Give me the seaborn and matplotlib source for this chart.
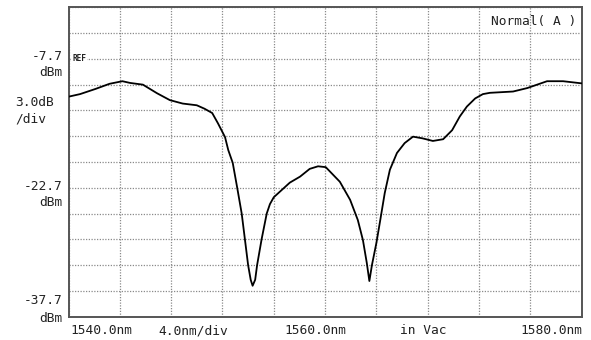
import matplotlib
matplotlib.use("Agg")
import matplotlib.pyplot as plt
import numpy as np
import pandas as pd
import seaborn as sns

# Optical spectrum trace (wavelength in nm, level in dBm)
wavelength_nm = [
    1540.0, 1540.9, 1542.1, 1543.2, 1544.2, 1544.8, 1545.8, 1546.9, 1547.9, 1548.9,
    1550.0, 1550.6, 1551.2, 1551.65, 1552.2, 1552.45, 1552.8, 1553.15, 1553.5, 1553.75,
    1554.0, 1554.2, 1554.35, 1554.55, 1554.7, 1555.05, 1555.45, 1555.7, 1556.0, 1557.25,
    1558.05, 1558.8, 1559.45, 1560.05, 1561.15, 1561.95, 1562.55, 1562.95, 1563.25, 1563.45,
    1563.65, 1564.0, 1564.3, 1564.65, 1565.05, 1565.6, 1566.2, 1566.85, 1567.6, 1568.4,
    1569.2, 1569.9, 1570.5, 1571.05, 1571.7, 1572.3, 1572.85, 1574.65, 1575.75, 1577.3,
    1578.55, 1580.0,
]
level_dbm = [
    -12.1, -11.8, -11.2, -10.6, -10.3, -10.5, -10.7, -11.7, -12.5, -12.9,
    -13.1, -13.5, -14.0, -15.2, -16.8, -18.3, -19.8, -22.7, -25.7, -28.7,
    -31.7, -33.4, -34.1, -33.4, -31.7, -28.7, -25.7, -24.6, -23.8, -22.1,
    -21.4, -20.5, -20.2, -20.3, -22.0, -24.1, -26.45, -28.8, -31.45, -33.55,
    -31.7, -29.1, -26.45, -23.3, -20.6, -18.65, -17.5, -16.75, -16.95, -17.25,
    -17.05, -16.0, -14.4, -13.25, -12.3, -11.8, -11.65, -11.5, -11.1, -10.3,
    -10.3, -10.55,
]

# Display settings of the analyser screen
start_nm, stop_nm, nm_per_div = 1540.0, 1580.0, 4.0
ref_dbm, db_per_div = -7.7, 3.0
top_dbm, bottom_dbm = -1.7, -37.7

x_labels = ["1540.0nm", "4.0nm/div", "1560.0nm", "in Vac", "1580.0nm"]
y_labels = ["-7.7", "-22.7", "-37.7"]
mode_label = "Normal( A )"

df = pd.DataFrame({"wavelength": wavelength_nm, "level": level_dbm})

sns.set_style("white")
plt.rcParams["font.family"] = ["DejaVu Sans Mono", "DejaVu Sans"]

W, H = 591, 340
fig = plt.figure(figsize=(W / 100, H / 100), dpi=100)
L, R, T, B = 68.5, 581.7, 7.3, 316.7
ax = fig.add_axes([L / W, 1 - B / H, (R - L) / W, (B - T) / H])

sns.lineplot(data=df, x="wavelength", y="level", ax=ax, color="black",
             linewidth=1.3, sort=False, zorder=3)

ax.set_xlim(start_nm, stop_nm)
ax.set_ylim(bottom_dbm, top_dbm)
ax.set_xticks(np.arange(start_nm, stop_nm + 0.01, nm_per_div))
ax.set_yticks(np.arange(bottom_dbm, top_dbm + 0.01, db_per_div))
ax.tick_params(length=0, labelbottom=False, labelleft=False)
ax.set_xlabel("")
ax.set_ylabel("")
ax.grid(True, color="#8a8a8a", linestyle=(0, (1, 1.2)), linewidth=0.9, zorder=1)
for s in ax.spines.values():
    s.set_color("#555555")
    s.set_linewidth(1.4)

fs = 9.3
txt = "#222222"
def px(x, y):
    return x / W, 1 - y / H

# Left-side level annotations
fig.text(*px(63, 56), y_labels[0], ha="right", va="center", fontsize=fs, color=txt)
fig.text(*px(63, 72), "dBm", ha="right", va="center", fontsize=fs, color=txt)
fig.text(*px(15, 103), "3.0dB", ha="left", va="center", fontsize=fs, color=txt)
fig.text(*px(15, 119), "/div", ha="left", va="center", fontsize=fs, color=txt)
fig.text(*px(63, 186.5), y_labels[1], ha="right", va="center", fontsize=fs, color=txt)
fig.text(*px(63, 202.5), "dBm", ha="right", va="center", fontsize=fs, color=txt)
fig.text(*px(63, 301), y_labels[2], ha="right", va="center", fontsize=fs, color=txt)
fig.text(*px(63, 318), "dBm", ha="right", va="center", fontsize=fs, color=txt)

# Bottom wavelength annotations
yb = 331
fig.text(*px(70, yb), x_labels[0], ha="left", va="center", fontsize=fs, color=txt)
fig.text(*px(158, yb), x_labels[1], ha="left", va="center", fontsize=fs, color=txt)
fig.text(*px(315, yb), x_labels[2], ha="center", va="center", fontsize=fs, color=txt)
fig.text(*px(400, yb), x_labels[3], ha="left", va="center", fontsize=fs, color=txt)
fig.text(*px(582, yb), x_labels[4], ha="right", va="center", fontsize=fs, color=txt)

# Mode indicator and reference marker
fig.text(*px(576, 21), mode_label, ha="right", va="center", fontsize=fs, color=txt)
ax.text(start_nm + 0.3, ref_dbm, "REF", ha="left", va="center", fontsize=5.6,
        fontweight="bold", color=txt, zorder=4,
        bbox=dict(facecolor="white", edgecolor="none", pad=0.6))

fig.savefig("out.png", dpi=100)
